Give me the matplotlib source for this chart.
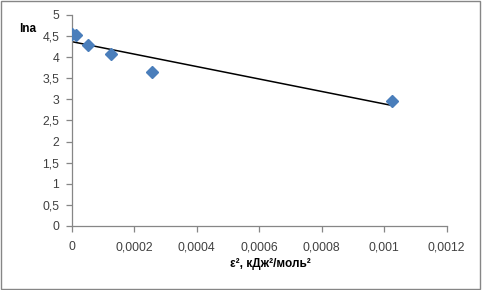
import numpy as np
import matplotlib.pyplot as plt
from matplotlib.ticker import FuncFormatter, MultipleLocator
from matplotlib.patches import Rectangle

# data
eps2 = [0.0, 0.000013, 0.000053, 0.000126, 0.000258, 0.001025]
ln_a = [4.55, 4.53, 4.29, 4.07, 3.64, 2.955]

x_ticks = [0, 0.0002, 0.0004, 0.0006, 0.0008, 0.001, 0.0012]

plt.rcParams['font.family'] = ['Liberation Sans', 'DejaVu Sans']

fig = plt.figure(figsize=(4.82, 2.9), dpi=100)
ax = fig.add_axes([0.1488, 0.2207, 0.778, 0.7276])

# linear trendline from the data
k, b = np.polyfit(eps2, ln_a, 1)
xs = np.array([min(eps2), max(eps2)])
ax.plot(xs, k * xs + b, color='black', linewidth=1.1, zorder=2)

ax.plot(eps2, ln_a, linestyle='none', marker='D', markersize=6.5,
        color='#4A7EBB', markeredgecolor='#4A7EBB', zorder=3)

ax.set_xlim(0, 0.0012)
ax.set_ylim(0, 5)
ax.set_xticks(x_ticks)
ax.yaxis.set_major_locator(MultipleLocator(0.5))

comma = FuncFormatter(lambda v, p: ('%g' % round(v, 6)).replace('.', ','))
ax.xaxis.set_major_formatter(comma)
ax.yaxis.set_major_formatter(comma)

for s in ['top', 'right']:
    ax.spines[s].set_visible(False)
for s in ['left', 'bottom']:
    ax.spines[s].set_color('#868686')
    ax.spines[s].set_linewidth(0.9)
ax.tick_params(direction='out', length=4, width=0.9, color='#868686',
               labelsize=8.8, labelcolor='#404040')
ax.tick_params(axis='x', pad=7)
ax.tick_params(axis='y', pad=5)

fig.text(0.058, 0.9, 'lna', fontsize=8.5, fontweight='bold', ha='center', va='center')
fig.text(0.56, 0.089, 'ε², кДж²/моль²', fontsize=8.5, fontweight='bold',
         ha='center', va='center')

fig.patches.append(Rectangle((0.002, 0.004), 0.994, 0.992, transform=fig.transFigure,
                             fill=False, edgecolor='#868686', linewidth=1))

fig.savefig('out.png', dpi=100)
